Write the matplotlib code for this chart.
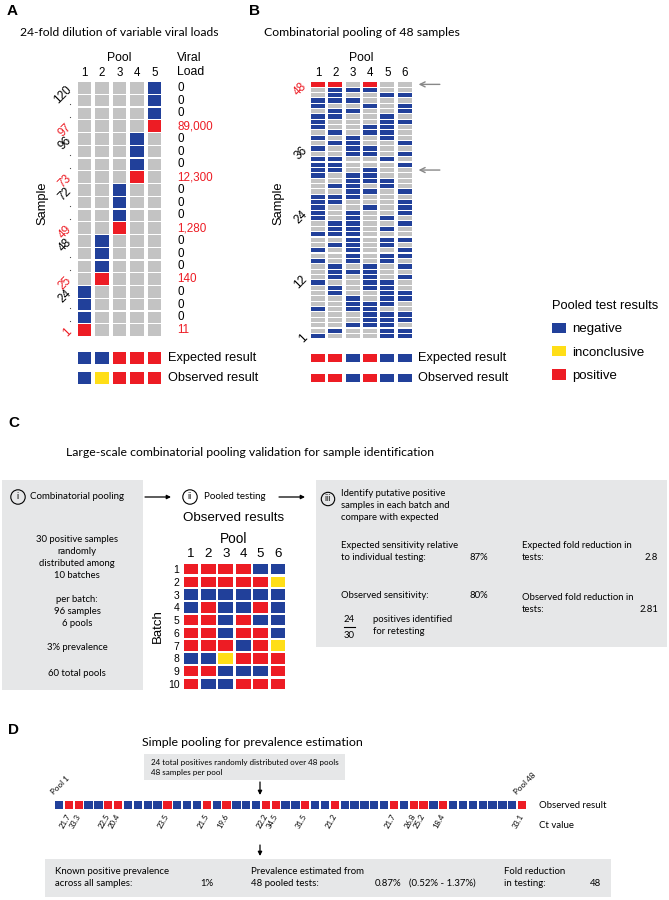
import numpy as np
import matplotlib
matplotlib.use('Agg')
import matplotlib.pyplot as plt
from matplotlib.patches import Rectangle, Patch

plt.rcParams['font.family'] = ['Liberation Sans', 'DejaVu Sans']
NARROW = ['Lato', 'DejaVu Sans']

# cell codes: n = negative, p = positive, i = inconclusive, - = sample not in pool
COLORS = {'n': '#21409a', 'p': '#ed1c24', 'i': '#ffde17', '-': '#c3c3c3'}
RED_TXT = '#ed1c24'
BOX = '#e6e7e8'

# ---------------- data ----------------
# panel A (rows top -> bottom)
a_pools = ['1', '2', '3', '4', '5']
a_sample_labels = ['120', '.', '.', '97', '96', '.', '.', '73', '72', '.', '.', '49',
                   '48', '.', '.', '25', '24', '.', '.', '1']
a_grid = ['----n', '----n', '----n', '----p',
          '---n-', '---n-', '---n-', '---p-',
          '--n--', '--n--', '--n--', '--p--',
          '-n---', '-n---', '-n---', '-p---',
          'n----', 'n----', 'n----', 'p----']
a_viral_load = ['0', '0', '0', '89,000', '0', '0', '0', '12,300', '0', '0', '0', '1,280',
                '0', '0', '0', '140', '0', '0', '0', '11']
a_expected = 'nnppp'
a_observed = 'nippp'

# panel B (rows top -> bottom, sample 48 first)
b_pools = ['1', '2', '3', '4', '5', '6']
b_grid = ['pp-p--', '-nnn--', '-n--nn', 'nnn---', 'n--n-n', '-nn--n', 'nn--n-', 'n---nn',
          'n--nn-', '-n-nn-', 'n-n-n-', '-nn--n', 'n-nn--', '--nn-n', 'nn--n-', 'nn---n',
          'nn-n--', 'n-nn--', '--nnn-', '-nn-n-', '--nn-n', 'nnn---', 'nn---n', 'n--n-n',
          'n-n--n', 'n-n-n-', '-nn--n', '-nn-n-', 'nnn---', '--n-nn', '-nn-n-', 'n-n--n',
          '--n-nn', 'n-n-n-', '-n-n-n', '-nnn--', '-n-n-n', 'n--nn-', '-n-nn-', '-n--nn',
          '--n-nn', '--nnn-', 'n-nn--', '---nnn', '---nnn', '--nnn-', '-n--nn', 'n---nn']
b_tick_samples = [48, 36, 24, 12, 1]
b_arrow_samples = [48, 32]
b_expected = 'ppnpnn'
b_observed = 'ppnpnn'

legend_codes = ['n', 'i', 'p']
legend_labels = ['negative', 'inconclusive', 'positive']

# panel C (batches 1 -> 10)
c_pools = ['1', '2', '3', '4', '5', '6']
c_batches = [str(i) for i in range(1, 11)]
c_grid = ['ppppnn', 'pppppi', 'nnnnnn', 'npnnpn', 'ppnpnn',
          'ppnppn', 'pppnpi', 'nnippp', 'ppnnnp', 'pnnppp']

# panel D (pools 1 -> 48)
d_results = 'nppnnppnnnnpnnnpnpnnnppnnpnnpnnnnnpnppnpnnnnnnnp'
d_ct = ['21.7', '33.3', '22.5', '20.4', '23.5', '21.5', '19.6', '22.2', '34.5',
        '31.5', '21.2', '21.7', '26.8', '25.2', '18.4', '33.1']

# ---------------- figure ----------------
W, H = 669, 900
fig = plt.figure(figsize=(W / 100, H / 100), dpi=100)

ov = fig.add_axes([0, 0, 1, 1], zorder=-1)
ov.set_xlim(0, W)
ov.set_ylim(H, 0)
ov.axis('off')


def add_ax(x0, y0, x1, y1):
    ax = fig.add_axes([x0 / W, 1 - y1 / H, (x1 - x0) / W, (y1 - y0) / H])
    for s in ax.spines.values():
        s.set_visible(False)
    ax.set_xticks([])
    ax.set_yticks([])
    ax.tick_params(length=0)
    ax.patch.set_alpha(0)
    return ax


def grid(ax, rows, cw, ch):
    for r, row in enumerate(rows):
        for c, code in enumerate(row):
            ax.add_patch(Rectangle((c + (1 - cw) / 2, r + (1 - ch) / 2), cw, ch,
                                   fc=COLORS[code], ec='none'))
    ax.set_xlim(0, len(rows[0]))
    ax.set_ylim(len(rows), 0)


def txt(x, y, s, **kw):
    kw.setdefault('va', 'center')
    fig.text(x / W, 1 - y / H, s, **kw)


def top_numbers(ax, labels, size):
    ax.xaxis.set_ticks_position('top')
    ax.set_xticks(np.arange(len(labels)) + 0.5, labels, fontsize=size)
    ax.tick_params(axis='x', length=0, pad=2)


def arrow(x0, y0, x1, y1):
    ov.annotate('', xy=(x1, y1), xytext=(x0, y0),
                arrowprops=dict(arrowstyle='-|>', color='black', lw=0.9,
                                mutation_scale=6, shrinkA=0, shrinkB=0))


# panel letters
txt(7, 11, 'A', fontsize=11, fontweight='bold')
txt(249, 11, 'B', fontsize=11, fontweight='bold')
txt(8, 423, 'C', fontsize=11, fontweight='bold')
txt(8, 730, 'D', fontsize=11, fontweight='bold')

# ---------------- panel A ----------------
txt(20, 32, '24-fold dilution of variable viral loads', fontsize=8.7, family=NARROW)
axa = add_ax(75.5, 81.4, 163.5, 336.4)
grid(axa, a_grid, 0.77, 0.9)
top_numbers(axa, a_pools, 8.3)
axa.set_yticks(np.arange(len(a_grid)) + 0.5, a_sample_labels, fontsize=8.5,
               rotation=45, rotation_mode='anchor', ha='right', va='center')
axa.tick_params(axis='y', pad=4)
for lab, row in zip(axa.get_yticklabels(), a_grid):
    if 'p' in row:
        lab.set_color(RED_TXT)
for r, (val, row) in enumerate(zip(a_viral_load, a_grid)):
    axa.text(5.77, r + 0.5, val, fontsize=8.4, va='center', ha='left',
             color=RED_TXT if 'p' in row else 'black', clip_on=False)
txt(119.5, 58, 'Pool', fontsize=8.8, ha='center')
txt(177, 58, 'Viral', fontsize=8.8)
txt(177, 72, 'Load', fontsize=8.8)
txt(42, 203, 'Sample', fontsize=9.3, rotation=90, ha='center')

ax = add_ax(75.5, 352, 163.5, 364)
grid(ax, [a_expected], 0.77, 0.95)
ax = add_ax(75.5, 372, 163.5, 384)
grid(ax, [a_observed], 0.77, 0.95)
txt(168, 358, 'Expected result', fontsize=9.2)
txt(168, 378, 'Observed result', fontsize=9.2)

# ---------------- panel B ----------------
txt(264, 32, 'Combinatorial pooling of 48 samples', fontsize=8.8, family=NARROW)
axb = add_ax(309.4, 81.7, 413.2, 338.7)
grid(axb, b_grid, 0.81, 0.8)
top_numbers(axb, b_pools, 8.3)
nb = len(b_grid)
axb.set_yticks([nb - s + 0.5 for s in b_tick_samples], [str(s) for s in b_tick_samples],
               fontsize=8.5, rotation=45, rotation_mode='anchor', ha='right', va='center')
axb.tick_params(axis='y', pad=3)
axb.get_yticklabels()[0].set_color(RED_TXT)
for s in b_arrow_samples:
    axb.annotate('', xy=(6.15, nb - s + 0.5), xytext=(7.7, nb - s + 0.5),
                 annotation_clip=False,
                 arrowprops=dict(arrowstyle='->', color='#888888', lw=1.0, mutation_scale=9))
txt(361, 58, 'Pool', fontsize=8.8, ha='center')
txt(278, 203, 'Sample', fontsize=9.3, rotation=90, ha='center')

ax = add_ax(309.4, 353.5, 413.2, 362.5)
grid(ax, [b_expected], 0.81, 0.95)
ax = add_ax(309.4, 373.5, 413.2, 382.5)
grid(ax, [b_observed], 0.81, 0.95)
txt(418, 358, 'Expected result', fontsize=9.2)
txt(418, 378, 'Observed result', fontsize=9.2)

handles = [Patch(fc=COLORS[c], ec='none') for c in legend_codes]
fig.legend(handles, legend_labels, loc='upper left', bbox_to_anchor=(552 / W, 1 - 300 / H),
           frameon=False, title='Pooled test results', title_fontsize=9.3, fontsize=9.5,
           handlelength=1.05, handleheight=0.85, handletextpad=0.5, labelspacing=0.8,
           borderpad=0, borderaxespad=0, alignment='left')

# ---------------- panel C ----------------
txt(66, 452, 'Large-scale combinatorial pooling validation for sample identification',
    fontsize=8.85, family=NARROW)
ov.add_patch(Rectangle((2, 480), 141, 210, fc=BOX, ec='none'))
ov.add_patch(Rectangle((316, 480), 351, 167, fc=BOX, ec='none'))
circ = dict(boxstyle='circle,pad=0.3', fc='none', ec='black', lw=0.8)
txt(18, 497, 'i', fontsize=6.5, ha='center', family=NARROW, bbox=circ)
txt(30, 497, 'Combinatorial pooling', fontsize=7, family=NARROW)
txt(190, 497, 'ii', fontsize=6.5, ha='center', family=NARROW, bbox=circ)
txt(204, 497, 'Pooled testing', fontsize=7, family=NARROW)
txt(328, 499, 'iii', fontsize=6.3, ha='center', family=NARROW,
    bbox=dict(boxstyle='circle,pad=0.25', fc='none', ec='black', lw=0.8))
for yy, s in zip([493, 505, 517], ['Identify putative positive', 'samples in each batch and',
                                   'compare with expected']):
    txt(341, yy, s, fontsize=6.8, family=NARROW)
arrow(145, 497, 171, 497)
arrow(279, 497, 305, 497)
for yy, s in zip([539, 551, 563, 575, 600, 612, 624, 648, 673],
                 ['30 positive samples', 'randomly', 'distributed among', '10 batches',
                  'per batch:', '96 samples', '6 pools', '3% prevalence', '60 total pools']):
    txt(77, yy, s, fontsize=6.8, ha='center', family=NARROW)

txt(234, 518, 'Observed results', fontsize=9.6, ha='center')
txt(234, 539, 'Pool', fontsize=9.8, ha='center')
axc = add_ax(182.3, 562.6, 286.7, 690.4)
grid(axc, c_grid, 0.85, 0.82)
top_numbers(axc, c_pools, 9.6)
axc.set_yticks(np.arange(len(c_grid)) + 0.5, c_batches, fontsize=7.5)
axc.tick_params(axis='y', pad=2)
txt(158, 626, 'Batch', fontsize=9.5, rotation=90, ha='center')

fs = 6.8
txt(341, 546, 'Expected sensitivity relative', fontsize=fs, family=NARROW)
txt(341, 558, 'to individual testing:', fontsize=fs, family=NARROW)
txt(469, 558, '87%', fontsize=fs, family=NARROW)
txt(522, 545, 'Expected fold reduction in', fontsize=fs, family=NARROW)
txt(522, 558, 'tests:', fontsize=fs, family=NARROW)
txt(658, 558, '2.8', fontsize=fs, ha='right', family=NARROW)
txt(341, 595, 'Observed sensitivity:', fontsize=fs, family=NARROW)
txt(469, 595, '80%', fontsize=fs, family=NARROW)
txt(522, 597, 'Observed fold reduction in', fontsize=fs, family=NARROW)
txt(522, 609, 'tests:', fontsize=fs, family=NARROW)
txt(658, 609, '2.81', fontsize=fs, ha='right', family=NARROW)
txt(349.5, 619, '24', fontsize=fs, ha='center', family=NARROW)
txt(349.5, 635, '30', fontsize=fs, ha='center', family=NARROW)
ov.plot([344, 355], [627, 627], color='black', lw=0.8)
txt(373, 619, 'positives identified', fontsize=fs, family=NARROW)
txt(373, 632, 'for retesting', fontsize=fs, family=NARROW)

# ---------------- panel D ----------------
txt(142, 742, 'Simple pooling for prevalence estimation', fontsize=8.9, family=NARROW)
ov.add_patch(Rectangle((144, 754), 201, 26, fc=BOX, ec='none'))
txt(151, 762, '24 total positives randomly distributed over 48 pools', fontsize=5.8, family=NARROW)
txt(151, 773, '48 samples per pool', fontsize=5.8, family=NARROW)
arrow(260, 782, 260, 795)

axd = add_ax(54.1, 801, 527.0, 809)
grid(axd, [d_results], 0.84, 1.0)
pos = [i for i, c in enumerate(d_results) if c == 'p']
axd.set_xticks(np.array(pos) + 0.5, d_ct, fontsize=5.6, rotation=60,
               rotation_mode='anchor', ha='right', va='center', family=NARROW)
axd.tick_params(axis='x', length=0, pad=4)
axd.text(0.1, -0.6, 'Pool 1', fontsize=5.8, rotation=45, ha='left', va='bottom',
         rotation_mode='anchor', family=NARROW)
axd.text(len(d_results) - 0.9, -0.6, 'Pool 48', fontsize=5.8, rotation=45, ha='left',
         va='bottom', rotation_mode='anchor', family=NARROW)
txt(539, 805, 'Observed result', fontsize=6.9, family=NARROW)
txt(539, 826, 'Ct value', fontsize=6.9, family=NARROW)
arrow(260, 845, 260, 856)

ov.add_patch(Rectangle((45, 859), 566, 38, fc=BOX, ec='none'))
fd = 6.9
txt(55, 871, 'Known positive prevalence', fontsize=fd, family=NARROW)
txt(55, 883, 'across all samples:', fontsize=fd, family=NARROW)
txt(200, 883, '1%', fontsize=fd, family=NARROW)
txt(251, 871, 'Prevalence estimated from', fontsize=fd, family=NARROW)
txt(251, 883, '48 pooled tests:', fontsize=fd, family=NARROW)
txt(375, 883, '0.87%', fontsize=fd, family=NARROW)
txt(409, 883, '(0.52% - 1.37%)', fontsize=fd, family=NARROW)
txt(504, 871, 'Fold reduction', fontsize=fd, family=NARROW)
txt(504, 883, 'in testing:', fontsize=fd, family=NARROW)
txt(590, 883, '48', fontsize=fd, family=NARROW)

fig.savefig('out.png', dpi=100)
